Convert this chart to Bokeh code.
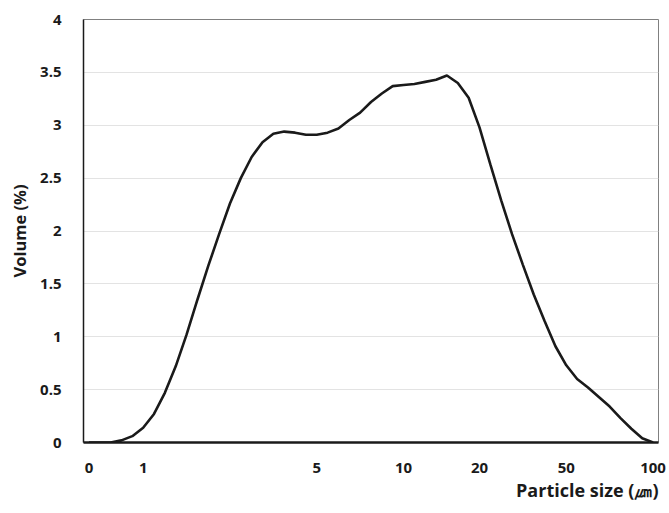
from bokeh.plotting import figure
from bokeh.models import FixedTicker, NumeralTickFormatter, Title, Range1d
from bokeh.embed import file_html
from bokeh.resources import INLINE

# particle size bins (category index) and volume (%)
bin_index = list(range(53))
volume = [0.0, 0.0, 0.0, 0.02, 0.06, 0.14, 0.27, 0.47, 0.72, 1.02,
          1.35, 1.67, 1.97, 2.26, 2.50, 2.70, 2.84, 2.92, 2.94, 2.93,
          2.91, 2.91, 2.93, 2.97, 3.05, 3.12, 3.22, 3.30, 3.37, 3.38,
          3.39, 3.41, 3.43, 3.47, 3.40, 3.26, 2.98, 2.63, 2.29, 1.97,
          1.68, 1.40, 1.15, 0.91, 0.73, 0.60, 0.52, 0.43, 0.34, 0.23,
          0.13, 0.04, 0.0]

x_tick_positions = [0, 5, 21, 29, 36, 44, 52]
x_tick_labels = ["0", "1", "5", "10", "20", "50", "100"]
y_ticks = [0, 0.5, 1, 1.5, 2, 2.5, 3, 3.5, 4]

FONT = "Open Sans"

p = figure(width=667, height=505, output_backend="svg", toolbar_location=None,
           x_range=Range1d(-0.5, 52.5), y_range=Range1d(0, 4),
           min_border_left=83, min_border_right=9, min_border_top=19,
           min_border_bottom=40)
p.frame_width = 575
p.frame_height = 423

p.line(bin_index, volume, line_color="#1a1a1a", line_width=2.6)

p.outline_line_color = "#808080"
p.outline_line_width = 1

p.xgrid.visible = False
p.ygrid.ticker = FixedTicker(ticks=y_ticks)
p.ygrid.grid_line_color = "#e3e3e3"
p.ygrid.grid_line_width = 1

p.xaxis.ticker = FixedTicker(ticks=x_tick_positions)
p.xaxis.major_label_overrides = {k: v for k, v in zip(x_tick_positions, x_tick_labels)}
p.xaxis.major_tick_line_color = None
p.xaxis.minor_tick_line_color = None
p.xaxis.axis_line_color = "#1a1a1a"
p.xaxis.axis_line_width = 2.5
p.xaxis.major_label_standoff = 14
p.xaxis.major_label_text_font = FONT
p.xaxis.major_label_text_font_style = "bold"
p.xaxis.major_label_text_font_size = "15px"
p.xaxis.major_label_text_color = "#1a1a1a"

p.yaxis.ticker = FixedTicker(ticks=y_ticks)
p.yaxis.formatter = NumeralTickFormatter(format="0.[0]")
p.yaxis.major_tick_line_color = None
p.yaxis.minor_tick_line_color = None
p.yaxis.axis_line_color = "#1a1a1a"
p.yaxis.axis_line_width = 1.5
p.yaxis.major_label_standoff = 16
p.yaxis.major_label_text_font = FONT
p.yaxis.major_label_text_font_style = "bold"
p.yaxis.major_label_text_font_size = "15px"
p.yaxis.major_label_text_color = "#1a1a1a"
p.yaxis.axis_label = "Volume (%)"
p.yaxis.axis_label_text_font = FONT
p.yaxis.axis_label_text_font_style = "bold"
p.yaxis.axis_label_text_font_size = "16.5px"
p.yaxis.axis_label_text_color = "#1a1a1a"
p.yaxis.axis_label_standoff = 6

t = Title(text="Particle size (㎛)", align="right", text_font=FONT,
          text_font_style="bold", text_font_size="18px", text_color="#1a1a1a",
          standoff=0)
p.add_layout(t, "below")

open("out.html", "w").write(file_html(p, INLINE))
